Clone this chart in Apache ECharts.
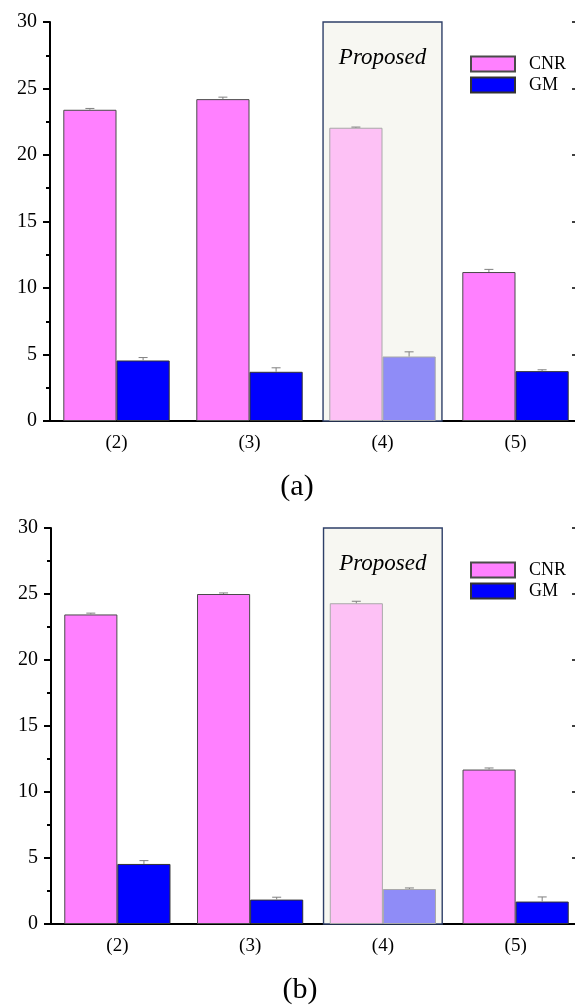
<!DOCTYPE html>
<html>
<head>
<meta charset="utf-8">
<script src="https://cdn.jsdelivr.net/npm/echarts@6/dist/echarts.min.js"></script>
<style>
html,body{margin:0;padding:0;background:#fff;overflow:hidden;width:575px;height:1005px;}
#chart{width:595px;height:1005px;}
</style>
</head>
<body>
<div id="chart"></div>
<script>
// ---- data ----
const categories = ['(2)', '(3)', '(4)', '(5)'];
const seriesNames = ['CNR', 'GM'];
const cnrA = [23.4, 24.2, 22.05, 11.2];
const gmA = [4.55, 3.7, 4.85, 3.75];
const cnrErrA = [0.1, 0.15, 0.05, 0.2];
const gmErrA = [0.22, 0.3, 0.35, 0.1];
const cnrB = [23.45, 25.0, 24.3, 11.7];
const gmB = [4.55, 1.85, 2.65, 1.7];
const cnrErrB = [0.1, 0.08, 0.15, 0.12];
const gmErrB = [0.25, 0.18, 0.08, 0.35];
const proposedIndex = 2;
const proposedLabel = 'Proposed';
const panelLabels = ['(a)', '(b)'];
const yMin = 0, yMax = 30, yStep = 5;

const FONT = '"Liberation Serif", "Times New Roman", serif';
const COL = {
  cnr: '#ff80ff', cnrLight: '#fdc1f5',
  gm: '#0000ff', gmLight: '#8f8cf7'
};

const chart = echarts.init(document.getElementById('chart'), null, {renderer: 'canvas'});

const grids = [
  {left: 50, top: 22, width: 532, height: 399},
  {left: 51, top: 528, width: 531, height: 396}
];

function barData(vals, light) {
  return vals.map((v, i) => i === proposedIndex
    ? {value: v, itemStyle: {color: light, borderColor: '#a9a9a9'}}
    : v);
}

function errData(vals, errs, sign) {
  return vals.map((v, i) => [i, v, errs[i], sign]);
}

function errRender(params, api) {
  const band = api.size([1, 0])[0];
  const off = api.value(3) * band * 0.2;
  const p = api.coord([api.value(0), api.value(1)]);
  const q = api.coord([api.value(0), api.value(1) + api.value(2)]);
  const x = p[0] + off;
  const st = {stroke: '#808080', lineWidth: 1};
  return {
    type: 'group',
    children: [
      {type: 'line', shape: {x1: x, y1: p[1], x2: x, y2: q[1]}, style: st},
      {type: 'line', shape: {x1: x - 4.5, y1: q[1], x2: x + 4.5, y2: q[1]}, style: st}
    ]
  };
}

function boxRender(params, api) {
  const band = api.size([1, 0])[0];
  const half = band * 0.447;
  const top = api.coord([api.value(0), yMax]);
  const bot = api.coord([api.value(0), yMin]);
  return {
    type: 'group',
    children: [
      {type: 'rect', shape: {x: top[0] - half, y: top[1], width: half * 2, height: bot[1] - top[1]},
        style: {fill: '#f7f7f2', stroke: '#2e3f68', lineWidth: 1.4}},
      {type: 'text', x: top[0], y: top[1] + 36,
        style: {text: proposedLabel, font: 'italic 23px ' + FONT, fill: '#000',
          textAlign: 'center', textVerticalAlign: 'middle'}}
    ]
  };
}

const xAxes = [], yAxes = [], series = [], legends = [];
const panels = [
  {cnr: cnrA, gm: gmA, cnrErr: cnrErrA, gmErr: gmErrA},
  {cnr: cnrB, gm: gmB, cnrErr: cnrErrB, gmErr: gmErrB}
];

panels.forEach((pd, g) => {
  const xb = xAxes.length;
  xAxes.push({
    type: 'category', gridIndex: g, data: categories, position: 'bottom',
    axisLine: {lineStyle: {color: '#000', width: 2}},
    axisTick: {alignWithLabel: true, length: 8, lineStyle: {color: '#000', width: 2}},
    axisLabel: {color: '#000', fontFamily: FONT, fontSize: 19, margin: 13},
    splitLine: {show: false}
  });
  xAxes.push({
    type: 'category', gridIndex: g, data: categories, position: 'top',
    axisLine: {lineStyle: {color: '#000', width: 1.5}},
    axisTick: {alignWithLabel: true, inside: true, length: 8, lineStyle: {color: '#000', width: 1.5}},
    axisLabel: {show: false}, splitLine: {show: false}
  });
  const yb = yAxes.length;
  yAxes.push({
    type: 'value', gridIndex: g, min: yMin, max: yMax, interval: yStep, position: 'left',
    axisLine: {show: true, lineStyle: {color: '#000', width: 2}},
    axisTick: {show: true, length: 7, lineStyle: {color: '#000', width: 2}},
    minorTick: {show: true, splitNumber: 2, length: 4, lineStyle: {color: '#000', width: 2}},
    axisLabel: {color: '#000', fontFamily: FONT, fontSize: 20, margin: 13},
    splitLine: {show: false}
  });
  yAxes.push({
    type: 'value', gridIndex: g, min: yMin, max: yMax, interval: yStep, position: 'right',
    axisLine: {show: true, lineStyle: {color: '#000', width: 2}},
    axisTick: {show: true, inside: true, length: 10, lineStyle: {color: '#000', width: 1.5}},
    axisLabel: {show: false}, splitLine: {show: false}
  });

  series.push({
    type: 'custom', name: 'box' + g, xAxisIndex: xb, yAxisIndex: yb, z: 1,
    renderItem: boxRender, data: [[proposedIndex, yMax]], silent: true
  });
  series.push({
    type: 'bar', name: seriesNames[0], xAxisIndex: xb, yAxisIndex: yb, z: 2,
    barWidth: '40%', barGap: '0%',
    itemStyle: {color: COL.cnr, borderColor: '#4a4a4a', borderWidth: 1},
    data: barData(pd.cnr, COL.cnrLight)
  });
  series.push({
    type: 'bar', name: seriesNames[1], xAxisIndex: xb, yAxisIndex: yb, z: 2,
    barWidth: '40%', barGap: '0%',
    itemStyle: {color: COL.gm, borderColor: '#333', borderWidth: 1},
    data: barData(pd.gm, COL.gmLight)
  });
  series.push({
    type: 'custom', name: 'errCNR' + g, xAxisIndex: xb, yAxisIndex: yb, z: 3,
    renderItem: errRender, data: errData(pd.cnr, pd.cnrErr, -1), silent: true
  });
  series.push({
    type: 'custom', name: 'errGM' + g, xAxisIndex: xb, yAxisIndex: yb, z: 3,
    renderItem: errRender, data: errData(pd.gm, pd.gmErr, 1), silent: true
  });

  legends.push({
    data: seriesNames, orient: 'vertical', left: 465, top: grids[g].top + 28,
    itemWidth: 44, itemHeight: 15, itemGap: 3, icon: 'rect',
    textStyle: {color: '#000', fontFamily: FONT, fontSize: 18, padding: [0, 0, 0, 9]},
    selectedMode: false
  });
});

const graphics = [
  {type: 'text', x: 297, y: 487,
    style: {text: panelLabels[0], font: '30px ' + FONT, fill: '#000', textAlign: 'center', textVerticalAlign: 'middle'}},
  {type: 'text', x: 300, y: 990,
    style: {text: panelLabels[1], font: '30px ' + FONT, fill: '#000', textAlign: 'center', textVerticalAlign: 'middle'}}
];

chart.setOption({
  animation: false,
  backgroundColor: '#fff',
  grid: grids,
  xAxis: xAxes,
  yAxis: yAxes,
  legend: legends,
  series: series,
  graphic: graphics
});
</script>
</body>
</html>
